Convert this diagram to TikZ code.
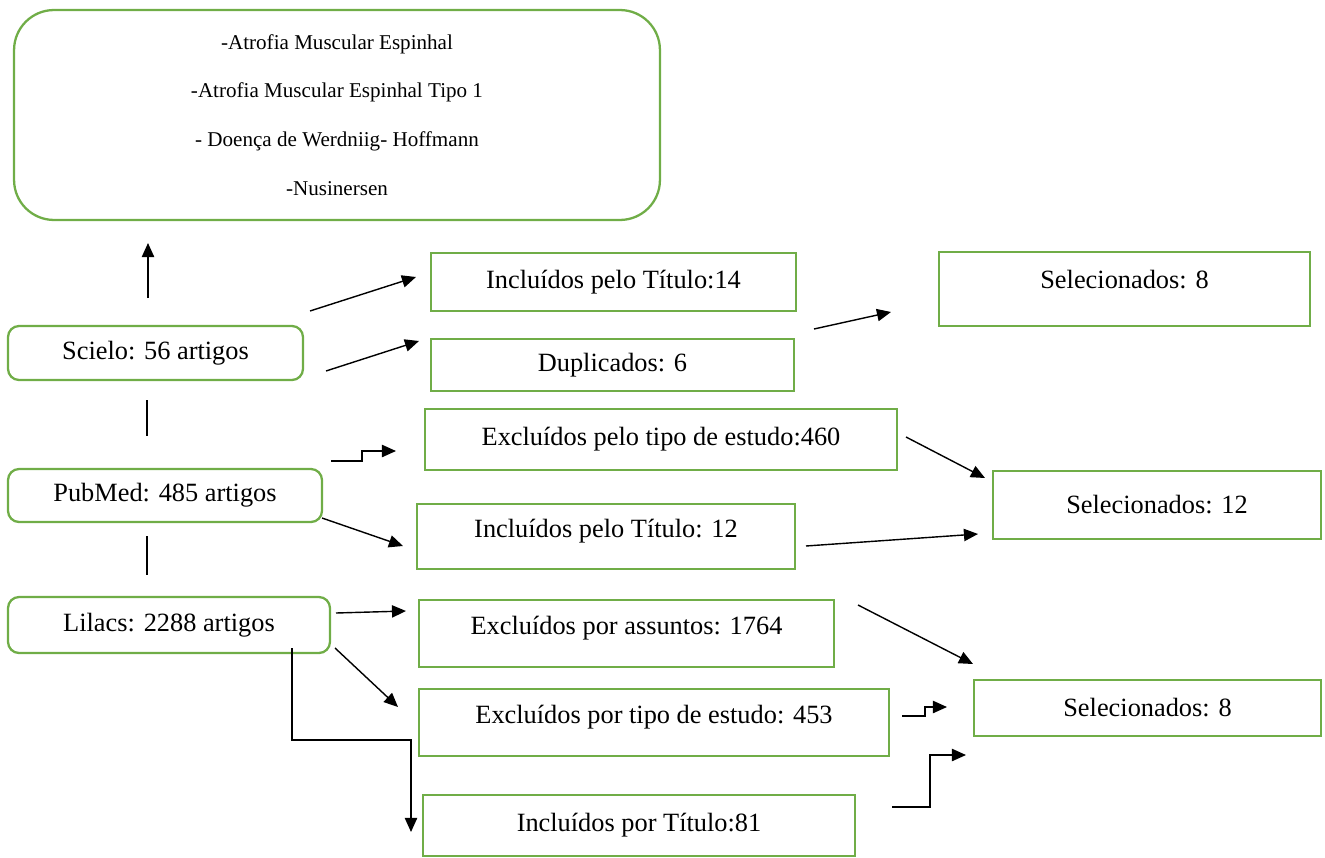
\documentclass[tikz,border=0pt]{standalone}
\usepackage{fontspec}
\setmainfont{Liberation Serif}
\usetikzlibrary{arrows.meta}
\definecolor{box_green}{RGB}{112, 173, 71}
\tikzstyle{gb}=[rectangle,draw=box_green,line width=1.3pt,inner sep=0pt,
  align=center,font=\fontsize{15}{18}\selectfont]
\tikzstyle{grb}=[gb,rounded corners=0.22cm]
\tikzstyle{kw}=[gb,rounded corners=0.8cm,font=\fontsize{12}{27.8}\selectfont]
\tikzstyle{arr}=[line width=0.8pt,-{Triangle[length=8pt,width=7pt]}]
\tikzstyle{ln}=[line width=0.8pt]
\begin{document}
\begin{tikzpicture}[x=0.02cm, y=-0.02cm]
    \useasboundingbox (0, 0) rectangle (1325, 858);
            % search terms and bases
            \node [style=kw, minimum width=12.92cm, minimum height=4.2cm] (0) at (337, 115) {-Atrofia Muscular Espinhal\\-Atrofia Muscular Espinhal Tipo 1\\- Doença de Werdniig- Hoffmann\\-Nusinersen};
            \node [style=grb, minimum width=5.9cm, minimum height=1.08cm] (1) at (155.5, 353) {Scielo: 56 artigos};
            \node [style=grb, minimum width=6.28cm, minimum height=1.06cm] (2) at (165, 495.5) {PubMed: 485 artigos};
            \node [style=grb, minimum width=6.44cm, minimum height=1.12cm] (3) at (169, 625) {Lilacs: 2288 artigos};
            % screening
            \node [style=gb, minimum width=7.3cm, minimum height=1.16cm] (4) at (613.5, 282) {Incluídos pelo Título:14};
            \node [style=gb, minimum width=7.26cm, minimum height=1.04cm] (5) at (612.5, 365) {Duplicados: 6};
            \node [style=gb, minimum width=9.44cm, minimum height=1.22cm] (6) at (661, 439.5) {Excluídos pelo tipo de estudo:460};
            \node [style=gb, minimum width=7.56cm, minimum height=1.3cm, text depth=9pt] (7) at (606, 536.5) {Incluídos pelo Título: 12};
            \node [style=gb, minimum width=8.3cm, minimum height=1.34cm, text depth=9pt] (8) at (626.5, 633.5) {Excluídos por assuntos: 1764};
            \node [style=gb, minimum width=9.4cm, minimum height=1.34cm, text depth=9pt] (9) at (654, 722.5) {Excluídos por tipo de estudo: 453};
            \node [style=gb, minimum width=8.64cm, minimum height=1.22cm] (10) at (639, 825.5) {Incluídos por Título:81};
            % selected
            \node [style=gb, minimum width=7.42cm, minimum height=1.48cm, text depth=11pt] (11) at (1124.5, 289) {Selecionados: 8};
            \node [style=gb, minimum width=6.56cm, minimum height=1.36cm] (12) at (1157, 505) {Selecionados: 12};
            \node [style=gb, minimum width=6.94cm, minimum height=1.12cm] (13) at (1147.5, 708) {Selecionados: 8};
            % connector ends
            \coordinate (20) at (148, 298);
            \coordinate (21) at (148, 243);
            \coordinate (22) at (147, 400);
            \coordinate (23) at (147, 436);
            \coordinate (24) at (147, 536);
            \coordinate (25) at (147, 575);
            \coordinate (26) at (310, 311);
            \coordinate (27) at (416, 277);
            \coordinate (28) at (326, 371);
            \coordinate (29) at (419, 341);
            \coordinate (30) at (331, 461);
            \coordinate (31) at (362, 451);
            \coordinate (32) at (396, 451);
            \coordinate (33) at (322, 518);
            \coordinate (34) at (403, 546);
            \coordinate (35) at (814, 329);
            \coordinate (36) at (891, 312);
            \coordinate (37) at (906, 437);
            \coordinate (38) at (985, 478);
            \coordinate (39) at (806, 546);
            \coordinate (40) at (978, 534);
            \coordinate (41) at (336, 613);
            \coordinate (42) at (406, 611);
            \coordinate (43) at (335, 648);
            \coordinate (44) at (398, 707);
            \coordinate (45) at (292, 648);
            \coordinate (46) at (411, 740);
            \coordinate (47) at (411, 832);
            \coordinate (48) at (858, 605);
            \coordinate (49) at (973, 664);
            \coordinate (50) at (902, 716);
            \coordinate (51) at (925, 707);
            \coordinate (52) at (947, 707);
            \coordinate (53) at (892, 807);
            \coordinate (54) at (930, 755);
            \coordinate (55) at (966, 755);
            \draw [style=arr] (20) to (21);
            \draw [style=ln] (22) to (23);
            \draw [style=ln] (24) to (25);
            \draw [style=arr] (26) to (27);
            \draw [style=arr] (28) to (29);
            \draw [style=arr] (30) -| (31) -- (32);
            \draw [style=arr] (33) to (34);
            \draw [style=arr] (35) to (36);
            \draw [style=arr] (37) to (38);
            \draw [style=arr] (39) to (40);
            \draw [style=arr] (41) to (42);
            \draw [style=arr] (43) to (44);
            \draw [style=arr] (45) |- (46) -- (47);
            \draw [style=arr] (48) to (49);
            \draw [style=arr] (50) -| (51) -- (52);
            \draw [style=arr] (53) -| (54) -- (55);
    \end{tikzpicture}
\end{document}
